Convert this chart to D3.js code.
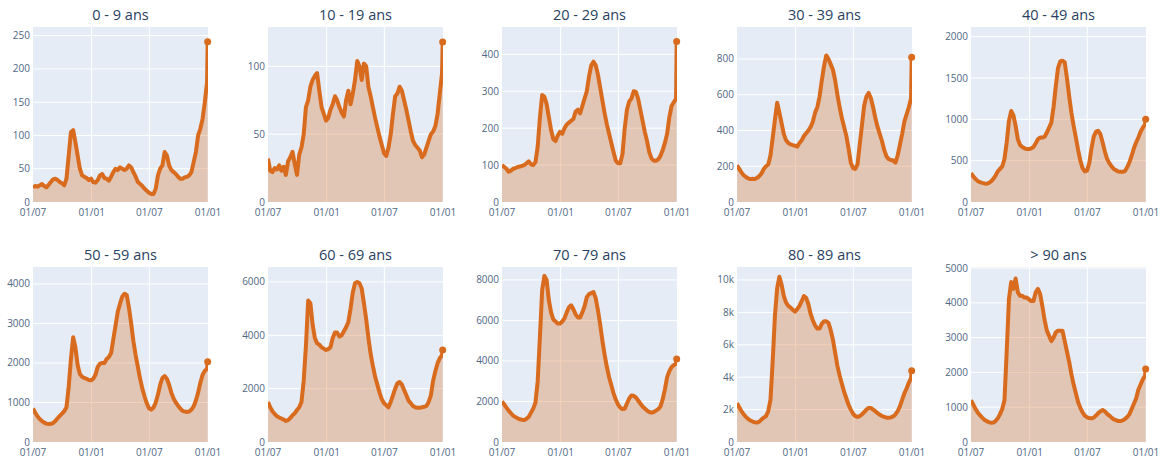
<!DOCTYPE html>
<html>
<head>
<meta charset="utf-8">
<script src="https://cdn.jsdelivr.net/npm/d3@7"></script>
<style>
  body { margin: 0; background: #ffffff; }
  svg { display: block; font-family: "Open Sans", "Noto Sans", sans-serif; }
</style>
</head>
<body>
<svg id="chart" width="1162" height="459"></svg>
<script>
// ---------------- DATA ----------------
const titles = ["0 - 9 ans", "10 - 19 ans", "20 - 29 ans", "30 - 39 ans", "40 - 49 ans",
                "50 - 59 ans", "60 - 69 ans", "70 - 79 ans", "80 - 89 ans", "> 90 ans"];

// weekly readings starting 2020-07-01, last value = 2021-12-31
const startDate = "2020-07-01";
const lastDate = "2021-12-31";
const xTickDates = ["2020-07-01", "2021-01-01", "2021-07-01", "2022-01-01"];
const xTickLabels = ["01/07", "01/01", "01/07", "01/01"];

const a0_9 = [22,24,23,25,27,24,22,26,30,34, 35,33,30,28,25,35,70,105,108,90,
  70,50,40,38,36,33,35,30,29,33, 40,42,36,35,32,38,45,50,48,52,
  50,48,50,55,52,45,38,30,27,24, 20,17,14,12,12,20,40,50,55,75,
  70,55,48,45,42,38,35,35,37,38, 40,45,60,75,100,110,125,150,180,241];
const a10_19 = [32,23,22,25,24,27,23,26,20,30, 33,37,28,20,35,40,50,70,75,85,
  90,93,95,82,70,65,60,62,68,72, 78,75,70,66,63,75,82,72,80,90,
  104,100,90,102,100,85,78,70,62,55, 48,42,36,34,40,50,65,78,80,85,
  82,75,68,60,52,45,42,40,38,33, 35,40,45,50,52,56,65,80,95,118];
const a20_29 = [100,95,90,82,85,90,92,95,96,98, 100,105,110,102,100,108,150,230,290,285,
  265,230,195,170,165,180,190,185,200,210, 215,220,225,245,250,240,260,280,300,340,
  370,380,370,345,310,275,240,210,185,160, 135,112,105,105,130,200,250,272,280,300,
  298,280,250,220,190,165,135,118,112,112, 115,125,140,160,185,230,260,270,280,435];
const a30_39 = [205,185,165,150,140,132,128,130,128,135, 145,160,185,200,210,260,360,460,555,500,
  440,380,345,330,322,318,315,310,330,345, 370,385,400,420,450,500,530,590,680,760,
  820,800,770,740,680,600,530,470,420,370, 300,220,190,185,210,320,430,540,590,610,
  580,530,470,420,380,340,290,255,240,235, 232,220,260,320,380,450,490,530,580,810];
const a40_49 = [350,310,280,255,240,232,225,222,230,250, 280,320,370,400,430,520,720,980,1100,1050,
  920,760,690,665,650,640,640,650,665,710, 760,780,780,790,840,900,960,1150,1400,1620,
  1700,1710,1690,1500,1280,1080,920,780,630,500, 410,370,380,470,650,790,850,860,820,720,
  610,520,470,430,400,385,370,365,365,375, 420,480,560,650,720,780,850,900,940,1000];
const a50_59 = [850,740,650,580,530,490,465,455,460,480, 530,600,660,720,780,880,1400,2100,2650,2400,
  1950,1720,1650,1620,1600,1570,1560,1600,1700,1900, 1980,2000,2000,2100,2150,2250,2600,2950,3300,3500,
  3680,3750,3720,3400,3000,2550,2200,1900,1600,1350, 1150,980,850,820,870,1000,1200,1450,1620,1670,
  1600,1450,1250,1100,1000,920,850,790,770,760, 770,820,900,1050,1250,1500,1700,1800,1850,2030];
const a60_69 = [1500,1300,1150,1050,970,920,880,840,790,820, 900,1000,1080,1200,1300,1500,2300,3600,5300,5200,
  4400,3900,3700,3650,3550,3500,3450,3480,3550,3900, 4100,4100,3950,4000,4150,4300,4500,5000,5600,5950,
  6000,5950,5750,5200,4600,3900,3300,2850,2450,2150, 1850,1600,1450,1380,1300,1500,1750,2000,2200,2250,
  2150,1950,1750,1550,1450,1350,1300,1280,1280,1300, 1320,1350,1500,1750,2300,2650,2950,3150,3250,3450];
const a70_79 = [2000,1850,1700,1550,1420,1300,1230,1170,1120,1100, 1080,1150,1250,1450,1650,1950,3000,5200,7500,8200,
  8000,7000,6400,6050,5950,5850,5850,5950,6100,6400, 6650,6750,6550,6300,6150,6150,6400,6700,7150,7300,
  7350,7400,7100,6500,5800,5000,4300,3700,3200,2800, 2400,2100,1850,1700,1620,1650,1900,2150,2300,2280,
  2200,2050,1900,1750,1650,1550,1480,1450,1480,1550, 1620,1750,2100,2600,3200,3500,3700,3800,3850,4100];
const a80_89 = [2400,2150,1900,1700,1550,1420,1330,1260,1220,1200, 1250,1400,1500,1600,1900,2600,5000,7800,9500,10200,
  9700,9000,8600,8400,8300,8150,8050,8200,8400,8700, 9000,8900,8500,7900,7500,7200,7000,7000,7300,7450,
  7450,7350,6900,6300,5500,4700,4100,3600,3100,2700, 2300,2000,1750,1600,1550,1600,1700,1850,2000,2100,
  2100,2000,1900,1780,1680,1600,1550,1500,1500,1520, 1580,1700,1900,2200,2600,3000,3300,3650,3950,4400];
const a90 = [1200,1080,950,850,770,700,640,600,570,550, 560,600,680,800,950,1200,2600,4100,4600,4400,
  4700,4300,4200,4200,4150,4150,4100,4050,4050,4300, 4400,4250,3900,3500,3200,3050,2900,3000,3150,3200,
  3200,3200,2900,2600,2300,1950,1650,1400,1150,980, 850,760,710,690,680,700,760,830,880,920,
  880,810,760,700,650,630,600,600,620,660, 720,800,950,1100,1250,1500,1650,1800,1900,2100];

const yTicks = [
  [0,50,100,150,200,250],
  [0,50,100],
  [0,100,200,300,400],
  [0,200,400,600,800],
  [0,500,1000,1500,2000],
  [0,1000,2000,3000,4000],
  [0,2000,4000,6000],
  [0,2000,4000,6000,8000],
  [0,2000,4000,6000,8000,10000],
  [0,1000,2000,3000,4000,5000]
];
const yMax = [263, 129, 474, 979, 2117, 4428, 6559, 8638, 10800, 5029];

const seriesValues = [a0_9, a10_19, a20_29, a30_39, a40_49, a50_59, a60_69, a70_79, a80_89, a90];

// ---------------- LAYOUT ----------------
const svg = d3.select("#chart");
const colLeft = [33, 268, 502, 737, 971];
const rowTop = [27, 267];
const pw = 175, ph = 175;
const lineColor = "#d86b1e";
const fillColor = "rgba(214,106,30,0.30)";
const bgColor = "#e5ecf6";
const textColor = "#2a3f5f";
const tickColor = "#506784";

const parse = d3.utcParse("%Y-%m-%d");
const start = parse(startDate);
const nWeekly = a0_9.length - 1;
const dates = d3.range(nWeekly).map(i => d3.utcDay.offset(start, 7 * i)).concat([parse(lastDate)]);
const tickDates = xTickDates.map(parse);

seriesValues.forEach((vals, i) => {
  const col = i % 5, row = Math.floor(i / 5);
  const left = colLeft[col], top = rowTop[row];
  const x = d3.scaleUtc().domain([start, parse("2022-01-01")]).range([left, left + pw]);
  const y = d3.scaleLinear().domain([0, yMax[i]]).range([top + ph, top]);
  const data = vals.map((v, k) => ({ d: dates[k], v }));

  const g = svg.append("g");
  const clipId = "clip" + i;
  svg.append("defs").append("clipPath").attr("id", clipId)
    .append("rect").attr("x", left).attr("y", top).attr("width", pw).attr("height", ph);

  g.append("rect").attr("x", left).attr("y", top).attr("width", pw).attr("height", ph).attr("fill", bgColor);

  // gridlines
  g.selectAll(".gy").data(yTicks[i].filter(t => t > 0)).enter().append("line")
    .attr("x1", left).attr("x2", left + pw)
    .attr("y1", d => y(d)).attr("y2", d => y(d))
    .attr("stroke", "#ffffff").attr("stroke-width", 1);
  g.selectAll(".gx").data(tickDates.slice(1, 3)).enter().append("line")
    .attr("y1", top).attr("y2", top + ph)
    .attr("x1", d => x(d)).attr("x2", d => x(d))
    .attr("stroke", "#ffffff").attr("stroke-width", 1);

  const area = d3.area().x(d => x(d.d)).y0(y(0)).y1(d => y(d.v));
  const line = d3.line().x(d => x(d.d)).y(d => y(d.v));
  const pg = g.append("g").attr("clip-path", `url(#${clipId})`);
  pg.append("path").datum(data).attr("d", area).attr("fill", fillColor);
  pg.append("path").datum(data).attr("d", line).attr("fill", "none")
    .attr("stroke", lineColor).attr("stroke-width", 4).attr("stroke-linejoin", "round");

  const last = data[data.length - 1];
  g.append("circle").attr("cx", x(last.d)).attr("cy", y(last.v)).attr("r", 3.5).attr("fill", lineColor);

  // y tick labels
  const fmt = i === 8 ? (d => d === 0 ? "0" : (d / 1000) + "k") : d3.format("d");
  g.selectAll(".yl").data(yTicks[i]).enter().append("text")
    .attr("x", left - 3).attr("y", d => y(d)).attr("dy", "0.35em")
    .attr("text-anchor", "end").attr("font-size", 10).attr("fill", tickColor)
    .text(fmt);

  // x tick labels
  g.selectAll(".xl").data(tickDates).enter().append("text")
    .attr("x", d => x(d)).attr("y", top + ph + 10).attr("dy", "0.35em")
    .attr("text-anchor", "middle").attr("font-size", 10).attr("fill", tickColor)
    .text((d, k) => xTickLabels[k]);

  // title
  g.append("text").attr("x", left + pw / 2).attr("y", top - 7)
    .attr("text-anchor", "middle").attr("font-size", 14.5).attr("fill", textColor)
    .text(titles[i]);
});
</script>
</body>
</html>
